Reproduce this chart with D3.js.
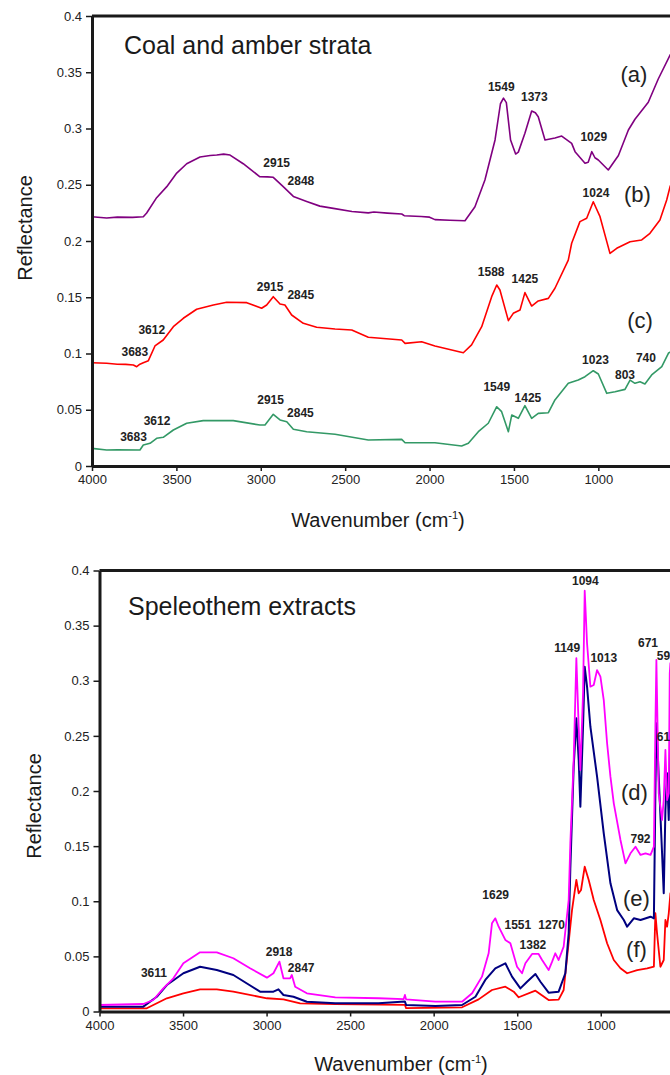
<!DOCTYPE html>
<html>
<head>
<meta charset="utf-8">
<script src="https://cdn.jsdelivr.net/npm/d3@7"></script>
<style>
  body { margin: 0; background: #fff; }
  svg { display: block; font-family: Arial, "Liberation Sans", sans-serif; }
</style>
</head>
<body>
<svg id="chart" width="670" height="1075"></svg>
<script>
// ---- data: [wavenumber, reflectance] ----
var xTicks = [4000, 3500, 3000, 2500, 2000, 1500, 1000];
var yTicks = [0, 0.05, 0.1, 0.15, 0.2, 0.25, 0.3, 0.35, 0.4];

var coalA = [[4000,0.2216],[3913,0.2205],[3850,0.2212],[3760,0.2210],[3696,0.2216],[3676,0.2249],[3617,0.2385],[3557,0.2483],[3498,0.2604],[3439,0.2687],[3360,0.2747],[3300,0.2760],[3261,0.2764],[3220,0.2772],[3182,0.2764],[3104,0.2687],[3005,0.2571],[2960,0.2570],[2926,0.2566],[2867,0.2483],[2807,0.2396],[2728,0.2352],[2650,0.2310],[2570,0.2290],[2460,0.2262],[2363,0.2250],[2330,0.2258],[2250,0.2248],[2165,0.2240],[2150,0.2225],[2050,0.2218],[2000,0.2212],[1968,0.2190],[1880,0.2184],[1790,0.2180],[1731,0.2304],[1672,0.2542],[1612,0.2898],[1580,0.3220],[1562,0.3270],[1545,0.3230],[1520,0.2898],[1490,0.2773],[1474,0.2790],[1435,0.2957],[1395,0.3156],[1373,0.3140],[1356,0.3105],[1316,0.2898],[1257,0.2916],[1217,0.2933],[1158,0.2868],[1138,0.2794],[1079,0.2691],[1060,0.2700],[1039,0.2794],[1020,0.2740],[1000,0.2720],[941,0.2631],[881,0.2760],[822,0.2987],[783,0.3082],[704,0.3233],[645,0.3440],[575,0.3653],[540,0.3720]];

var coalB = [[4000,0.0918],[3913,0.0913],[3850,0.0905],[3800,0.0903],[3755,0.0898],[3735,0.0883],[3716,0.0905],[3696,0.0918],[3666,0.0936],[3627,0.1067],[3578,0.1120],[3518,0.1238],[3459,0.1313],[3380,0.1393],[3281,0.1431],[3202,0.1455],[3083,0.1452],[2995,0.1402],[2965,0.1431],[2926,0.1505],[2886,0.1440],[2857,0.1431],[2817,0.1342],[2748,0.1268],[2669,0.1233],[2560,0.1218],[2461,0.1209],[2363,0.1144],[2165,0.1120],[2145,0.1090],[2047,0.1105],[1968,0.1067],[1800,0.1007],[1751,0.1076],[1691,0.1238],[1632,0.1505],[1602,0.1609],[1583,0.1564],[1533,0.1292],[1504,0.1357],[1464,0.1387],[1435,0.1541],[1395,0.1422],[1356,0.1467],[1296,0.1490],[1257,0.1580],[1178,0.1830],[1158,0.1980],[1109,0.2172],[1069,0.2202],[1030,0.2349],[990,0.2216],[931,0.1890],[891,0.1935],[812,0.1994],[743,0.2009],[694,0.2068],[635,0.2187],[595,0.2364],[575,0.2483],[540,0.2600]];

var coalC = [[4000,0.0157],[3913,0.0142],[3850,0.0145],[3716,0.0142],[3696,0.0187],[3656,0.0202],[3617,0.0246],[3578,0.0255],[3518,0.0320],[3439,0.0380],[3341,0.0403],[3163,0.0403],[3005,0.0364],[2975,0.0364],[2926,0.0459],[2886,0.0409],[2846,0.0394],[2807,0.0326],[2728,0.0305],[2560,0.0282],[2363,0.0231],[2165,0.0237],[2145,0.0207],[1968,0.0207],[1810,0.0178],[1770,0.0202],[1711,0.0305],[1652,0.0380],[1602,0.0527],[1573,0.0483],[1533,0.0305],[1513,0.0453],[1474,0.0424],[1435,0.0536],[1395,0.0424],[1356,0.0468],[1296,0.0474],[1257,0.0587],[1178,0.0735],[1119,0.0764],[1079,0.0794],[1030,0.0847],[1000,0.0818],[950,0.0646],[901,0.0660],[842,0.0681],[812,0.0764],[783,0.0735],[753,0.0749],[724,0.0729],[684,0.0809],[624,0.0883],[585,0.1002],[540,0.1050]];

var speleoD = [[4000,0.0059],[3738,0.0068],[3678,0.0104],[3618,0.0210],[3558,0.0301],[3498,0.0437],[3398,0.0537],[3298,0.0537],[3199,0.0483],[3099,0.0392],[2998,0.0307],[2959,0.0347],[2923,0.0452],[2899,0.0301],[2859,0.0301],[2849,0.0331],[2829,0.0225],[2759,0.0165],[2589,0.0129],[2330,0.0120],[2180,0.0112],[2172,0.0150],[2165,0.0110],[1990,0.0089],[1830,0.0089],[1770,0.0165],[1711,0.0316],[1671,0.0528],[1651,0.0800],[1631,0.0845],[1611,0.0769],[1571,0.0649],[1541,0.0619],[1501,0.0406],[1471,0.0347],[1451,0.0437],[1411,0.0522],[1372,0.0522],[1351,0.0467],[1312,0.0376],[1291,0.0452],[1272,0.0528],[1252,0.0467],[1222,0.0588],[1192,0.1011],[1182,0.1526],[1162,0.2281],[1146,0.3204],[1132,0.2583],[1122,0.2190],[1106,0.2886],[1096,0.3817],[1082,0.3340],[1062,0.2946],[1042,0.2961],[1022,0.3097],[1002,0.3037],[982,0.2825],[962,0.2433],[942,0.2130],[922,0.1888],[882,0.1556],[852,0.1344],[822,0.1435],[792,0.1495],[762,0.1420],[732,0.1435],[702,0.1420],[682,0.1495],[673,0.2583],[667,0.3188],[653,0.1979],[633,0.1737],[623,0.1918],[613,0.2372],[603,0.1918],[593,0.1980],[587,0.3068],[583,0.3160],[560,0.3200]];

var speleoE = [[4000,0.0044],[3738,0.0044],[3657,0.0134],[3597,0.0240],[3498,0.0347],[3398,0.0406],[3298,0.0376],[3199,0.0331],[3039,0.0180],[2959,0.0180],[2929,0.0201],[2899,0.0150],[2839,0.0134],[2759,0.0089],[2589,0.0074],[2330,0.0074],[2172,0.0090],[2165,0.0060],[1990,0.0050],[1830,0.0059],[1750,0.0134],[1691,0.0286],[1631,0.0392],[1571,0.0437],[1531,0.0316],[1481,0.0210],[1441,0.0270],[1391,0.0340],[1361,0.0270],[1312,0.0171],[1252,0.0180],[1212,0.0347],[1192,0.0709],[1182,0.1300],[1162,0.2220],[1146,0.2659],[1132,0.2281],[1122,0.1858],[1106,0.2583],[1096,0.3127],[1082,0.2946],[1062,0.2583],[1022,0.2130],[982,0.1616],[942,0.1163],[902,0.0920],[862,0.0830],[842,0.0769],[802,0.0845],[762,0.0830],[702,0.0860],[682,0.0845],[673,0.1979],[667,0.2614],[653,0.2130],[633,0.1435],[623,0.1072],[613,0.1828],[603,0.2160],[593,0.1737],[583,0.2583],[560,0.2700]];

var speleoF = [[4000,0.0029],[3717,0.0029],[3597,0.0120],[3498,0.0165],[3398,0.0201],[3298,0.0201],[3199,0.0180],[2998,0.0120],[2899,0.0110],[2799,0.0074],[2589,0.0068],[2172,0.0060],[2165,0.0030],[1830,0.0038],[1731,0.0110],[1651,0.0195],[1571,0.0225],[1521,0.0180],[1491,0.0129],[1391,0.0189],[1312,0.0104],[1252,0.0107],[1222,0.0195],[1203,0.0467],[1172,0.0920],[1146,0.1193],[1132,0.1072],[1118,0.1102],[1096,0.1313],[1072,0.1193],[1042,0.1011],[1002,0.0830],[962,0.0619],[922,0.0467],[882,0.0392],[842,0.0347],[782,0.0376],[722,0.0392],[682,0.0406],[673,0.0891],[663,0.0709],[643,0.0406],[623,0.0467],[613,0.0830],[603,0.0769],[593,0.0891],[583,0.1072],[560,0.1100]];

// peak labels: [text, wavenumber, reflectance]
var peaksTop = [["2915",2906,0.266],["2848",2762,0.2498],["1549",1575,0.3336],["1373",1379,0.3244],["1029",1027,0.2892],
  ["1024",1014,0.2388],["3612",3646,0.1171],["3683",3746,0.0978],["2915",2945,0.1556],["2845",2763,0.1484],["1588",1635,0.1689],["1425",1435,0.1624],
  ["3612",3615,0.0364],["3683",3754,0.0222],["2915",2942,0.0551],["2845",2765,0.0433],["1549",1602,0.0669],["1425",1417,0.0572],["1023",1017,0.0904],["803",842,0.0771],["740",718,0.0927]];
var casesTop = [["(a)",789,0.3413],["(b)",768,0.2349],["(c)",753,0.1224]];

var peaksBottom = [["1094",1092,0.3868],["1149",1201,0.3264],["1013",982,0.3173],["671",717,0.3303],["59",625,0.3188],["61",625,0.2453],
  ["792",762,0.1526],["1270",1294,0.0748],["1551",1496,0.0748],["1382",1406,0.0567],["1629",1629,0.1018],["3611",3674,0.031],["2918",2925,0.0506],["2847",2793,0.0361]];
var casesBottom = [["(d)",798,0.1918],["(e)",786,0.0957],["(f)",786,0.0494]];

var svg = d3.select("#chart"),
    width = +svg.attr("width");

function drawPanel(p) {
  var x = d3.scaleLinear().domain([4000, 400]).range([p.left, p.right]),
      y = d3.scaleLinear().domain([0, 0.4]).range([p.bottom, p.top]);

  var g = svg.append("g");

  var line = d3.line()
      .x(function(d) { return x(d[0]); })
      .y(function(d) { return y(d[1]); });

  p.series.forEach(function(s) {
    g.append("path")
        .datum(s.data)
        .attr("d", line)
        .attr("fill", "none")
        .attr("stroke", s.color)
        .attr("stroke-width", s.width)
        .attr("stroke-linejoin", "round");
  });

  // frame top line
  g.append("line")
      .attr("x1", p.left).attr("x2", width)
      .attr("y1", y(0.4)).attr("y2", y(0.4))
      .attr("stroke", "#1a1a1a").attr("stroke-width", 3);

  var yAxis = g.append("g")
      .attr("transform", "translate(" + p.left + ",0)")
      .call(d3.axisLeft(y).tickValues(yTicks).tickSize(6).tickSizeOuter(0).tickPadding(4)
        .tickFormat(function(d) { return String(d); }));

  var xAxis = g.append("g")
      .attr("transform", "translate(0," + p.bottom + ")")
      .call(d3.axisBottom(x).tickValues(xTicks).tickSize(5).tickSizeOuter(0).tickPadding(4)
        .tickFormat(d3.format("d")));

  [yAxis, xAxis].forEach(function(a) {
    a.select(".domain").attr("stroke", "#1a1a1a").attr("stroke-width", 3);
    a.selectAll(".tick line").attr("stroke", "#1a1a1a").attr("stroke-width", 1.5);
    a.selectAll(".tick text").attr("fill", "#222").style("font-size", "13px")
      .style("font-family", "Arial, 'Liberation Sans', sans-serif");
  });

  g.selectAll(".peak")
    .data(p.peaks)
    .enter().append("text")
      .attr("class", "peak")
      .attr("x", function(d) { return x(d[1]); })
      .attr("y", function(d) { return y(d[2]); })
      .attr("text-anchor", "middle")
      .attr("font-size", 12)
      .attr("font-weight", "bold")
      .attr("fill", "#222")
      .text(function(d) { return d[0]; });

  g.selectAll(".case")
    .data(p.cases)
    .enter().append("text")
      .attr("class", "case")
      .attr("x", function(d) { return x(d[1]); })
      .attr("y", function(d) { return y(d[2]); })
      .attr("text-anchor", "middle")
      .attr("font-size", 22)
      .attr("fill", "#222")
      .text(function(d) { return d[0]; });

  g.append("text")
      .attr("x", p.titleX).attr("y", p.titleY)
      .attr("font-size", 25)
      .attr("fill", "#1a1a1a")
      .text(p.title);

  g.append("text")
      .attr("transform", "translate(" + p.yLabelX + "," + p.yLabelY + ") rotate(-90)")
      .attr("text-anchor", "middle")
      .attr("font-size", 20)
      .attr("fill", "#1a1a1a")
      .text("Reflectance");

  var xl = g.append("text")
      .attr("x", p.xLabelX).attr("y", p.xLabelY)
      .attr("text-anchor", "middle")
      .attr("font-size", 20)
      .attr("fill", "#1a1a1a");
  xl.append("tspan").text("Wavenumber (cm");
  xl.append("tspan").attr("dy", -8).attr("font-size", 11).text("-1");
  xl.append("tspan").attr("dy", 8).text(")");
}

drawPanel({
  left: 92, right: 699.6, top: 16, bottom: 466,
  series: [
    { data: coalA, color: "#800080", width: 1.6 },
    { data: coalB, color: "#ff0000", width: 1.6 },
    { data: coalC, color: "#339966", width: 1.6 }
  ],
  peaks: peaksTop, cases: casesTop,
  title: "Coal and amber strata", titleX: 124, titleY: 54,
  yLabelX: 31.5, yLabelY: 228,
  xLabelX: 378, xLabelY: 527
});

drawPanel({
  left: 99.5, right: 701, top: 570.5, bottom: 1011.5,
  series: [
    { data: speleoF, color: "#ff0000", width: 1.8 },
    { data: speleoE, color: "#000080", width: 2 },
    { data: speleoD, color: "#ff00ff", width: 1.8 }
  ],
  peaks: peaksBottom, cases: casesBottom,
  title: "Speleothem extracts", titleX: 128, titleY: 615,
  yLabelX: 41, yLabelY: 806,
  xLabelX: 401, xLabelY: 1071
});
</script>
</body>
</html>
